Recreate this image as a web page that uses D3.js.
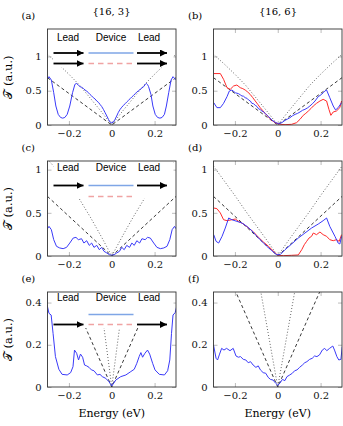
<!DOCTYPE html>
<html>
<head>
<meta charset="utf-8">
<script src="https://cdn.jsdelivr.net/npm/d3@7"></script>
<style>
body { margin: 0; background: #fff; }
svg text.serif { font-family: "DejaVu Serif", "Liberation Serif", serif; }
svg text.sans { font-family: "Liberation Sans", "DejaVu Sans", sans-serif; }
</style>
</head>
<body>
<div id="chart-area"></div>
<script>
// tick values
var xTicks = [-0.2, 0, 0.2];
var yTicksHigh = [0, 0.5, 1];
var yTicksLow = [0, 0.2, 0.4];

// reference lines (dashed = linear, dotted = per panel)
var dashedRef = [[-0.3, 0.69], [0, 0], [0.3, 0.69]];
var dottedA = [[-0.3, 1.03], [-0.25, 0.89], [-0.2, 0.74], [-0.15, 0.58], [-0.1, 0.39], [-0.05, 0.2], [0, 0],
	[0.05, 0.2], [0.1, 0.39], [0.15, 0.58], [0.2, 0.74], [0.25, 0.89], [0.3, 1.03]];
var dottedC = [[-0.3, 1.12], [-0.25, 0.98], [-0.2, 0.83], [-0.156, 0.68], [-0.1, 0.45], [-0.05, 0.23], [0, 0],
	[0.05, 0.23], [0.1, 0.45], [0.156, 0.68], [0.2, 0.83], [0.25, 0.98], [0.3, 1.12]];
var dottedD = [[-0.3, 1.04], [-0.25, 0.87], [-0.2, 0.7], [-0.15, 0.52], [-0.1, 0.35], [-0.05, 0.18], [0, 0],
	[0.05, 0.18], [0.1, 0.35], [0.15, 0.52], [0.2, 0.7], [0.25, 0.87], [0.3, 1.04]];
var dottedE = [[-0.062, 0.48], [0, 0], [0.062, 0.48]];
var dottedF = [[-0.08, 0.456], [0, 0], [0.08, 0.456]];

// (a) {16,3}
var blueA = [[-0.3, 0.675], [-0.293, 0.705], [-0.282, 0.656], [-0.271, 0.471], [-0.261, 0.277], [-0.25, 0.155],
	[-0.239, 0.11], [-0.229, 0.1], [-0.219, 0.11], [-0.208, 0.155], [-0.196, 0.277], [-0.183, 0.471], [-0.172, 0.593],
	[-0.164, 0.607], [-0.156, 0.58], [-0.149, 0.56], [-0.141, 0.55], [-0.133, 0.535], [-0.125, 0.51], [-0.117, 0.496],
	[-0.109, 0.47], [-0.102, 0.447], [-0.094, 0.425], [-0.086, 0.398], [-0.078, 0.38], [-0.07, 0.35], [-0.062, 0.33],
	[-0.055, 0.301], [-0.047, 0.27], [-0.039, 0.228], [-0.031, 0.18], [-0.023, 0.131], [-0.015, 0.08], [-0.008, 0.044],
	[0, 0.03], [0.008, 0.044], [0.015, 0.08], [0.023, 0.131], [0.031, 0.185], [0.039, 0.228], [0.047, 0.26],
	[0.055, 0.287], [0.062, 0.31], [0.07, 0.335], [0.078, 0.36], [0.086, 0.384], [0.094, 0.41], [0.102, 0.432],
	[0.109, 0.455], [0.117, 0.481], [0.125, 0.5], [0.133, 0.52], [0.141, 0.54], [0.149, 0.559], [0.155, 0.585],
	[0.161, 0.607], [0.167, 0.59], [0.172, 0.559], [0.183, 0.447], [0.192, 0.277], [0.203, 0.155], [0.214, 0.11],
	[0.225, 0.1], [0.235, 0.11], [0.246, 0.155], [0.255, 0.277], [0.266, 0.471], [0.277, 0.656], [0.286, 0.705],
	[0.297, 0.666], [0.3, 0.66]];

// (b) {16,6}
var blueB = [[-0.299, 0.326], [-0.284, 0.253], [-0.268, 0.253], [-0.253, 0.316], [-0.237, 0.413], [-0.226, 0.496],
	[-0.214, 0.51], [-0.198, 0.47], [-0.183, 0.457], [-0.175, 0.44], [-0.167, 0.423], [-0.16, 0.42], [-0.152, 0.398],
	[-0.144, 0.39], [-0.136, 0.364], [-0.128, 0.35], [-0.121, 0.316], [-0.113, 0.31], [-0.105, 0.287], [-0.097, 0.27],
	[-0.09, 0.238], [-0.082, 0.225], [-0.074, 0.204], [-0.066, 0.19], [-0.059, 0.17], [-0.051, 0.145], [-0.043, 0.121],
	[-0.035, 0.1], [-0.028, 0.073], [-0.012, 0.039], [0.003, 0.019], [0.019, 0.034], [0.034, 0.068], [0.045, 0.085],
	[0.057, 0.107], [0.069, 0.135], [0.081, 0.155], [0.093, 0.17], [0.104, 0.19], [0.116, 0.215], [0.127, 0.228],
	[0.139, 0.25], [0.15, 0.277], [0.162, 0.31], [0.174, 0.35], [0.189, 0.413], [0.205, 0.447], [0.212, 0.47],
	[0.22, 0.496], [0.228, 0.51], [0.243, 0.398], [0.259, 0.277], [0.27, 0.219], [0.282, 0.253], [0.298, 0.326]];
var redB = [[-0.299, 0.75], [-0.268, 0.75], [-0.253, 0.666], [-0.237, 0.544], [-0.222, 0.52], [-0.206, 0.569],
	[-0.191, 0.583], [-0.175, 0.544], [-0.163, 0.53], [-0.152, 0.51], [-0.14, 0.48], [-0.129, 0.447], [-0.117, 0.4],
	[-0.105, 0.35], [-0.093, 0.3], [-0.082, 0.253], [-0.07, 0.21], [-0.059, 0.17], [-0.047, 0.13], [-0.036, 0.092],
	[-0.024, 0.06], [-0.012, 0.034], [0.011, 0.01], [0.034, 0.005], [0.065, 0.01], [0.088, 0.034], [0.104, 0.083],
	[0.119, 0.141], [0.131, 0.17], [0.143, 0.204], [0.155, 0.24], [0.166, 0.277], [0.181, 0.316], [0.197, 0.35],
	[0.212, 0.374], [0.228, 0.35], [0.239, 0.228], [0.248, 0.141], [0.259, 0.19], [0.274, 0.204], [0.29, 0.253],
	[0.298, 0.35]];

// (c) {16,3}
var blueC = [[-0.3, 0.316], [-0.293, 0.343], [-0.282, 0.305], [-0.271, 0.189], [-0.258, 0.112], [-0.243, 0.093],
	[-0.227, 0.085], [-0.211, 0.1], [-0.196, 0.15], [-0.18, 0.208], [-0.167, 0.216], [-0.156, 0.189], [-0.141, 0.2],
	[-0.13, 0.15], [-0.117, 0.177], [-0.105, 0.123], [-0.094, 0.15], [-0.083, 0.1], [-0.07, 0.123], [-0.058, 0.073],
	[-0.047, 0.1], [-0.036, 0.054], [-0.023, 0.035], [-0.011, 0.015], [0, 0.008], [0.011, 0.015], [0.023, 0.035],
	[0.036, 0.054], [0.047, 0.1], [0.058, 0.073], [0.07, 0.123], [0.083, 0.1], [0.094, 0.15], [0.105, 0.123],
	[0.117, 0.177], [0.13, 0.15], [0.141, 0.2], [0.156, 0.189], [0.167, 0.216], [0.18, 0.208], [0.196, 0.15],
	[0.211, 0.1], [0.227, 0.085], [0.243, 0.093], [0.258, 0.112], [0.271, 0.189], [0.282, 0.305], [0.293, 0.343],
	[0.3, 0.316]];

// (d) {16,6}
var blueD = [[-0.299, 0.247], [-0.288, 0.17], [-0.276, 0.15], [-0.26, 0.228], [-0.245, 0.324], [-0.229, 0.44],
	[-0.214, 0.42], [-0.191, 0.401], [-0.167, 0.382], [-0.144, 0.343], [-0.121, 0.293], [-0.098, 0.228],
	[-0.074, 0.17], [-0.051, 0.112], [-0.028, 0.062], [-0.005, 0.015], [0.011, 0.015], [0.034, 0.073],
	[0.065, 0.139], [0.096, 0.208], [0.127, 0.266], [0.158, 0.324], [0.189, 0.37], [0.212, 0.409], [0.228, 0.44],
	[0.243, 0.343], [0.267, 0.228], [0.282, 0.15], [0.29, 0.139], [0.298, 0.228]];
var redD = [[-0.299, 0.556], [-0.284, 0.548], [-0.268, 0.498], [-0.253, 0.42], [-0.237, 0.409], [-0.214, 0.42],
	[-0.198, 0.428], [-0.183, 0.401], [-0.16, 0.37], [-0.136, 0.324], [-0.113, 0.278], [-0.09, 0.216],
	[-0.067, 0.162], [-0.043, 0.112], [-0.02, 0.054], [0, 0.008], [0.026, 0.004], [0.065, 0.008], [0.096, 0.012],
	[0.112, 0.073], [0.124, 0.131], [0.135, 0.17], [0.146, 0.208], [0.158, 0.228], [0.166, 0.266], [0.181, 0.247],
	[0.197, 0.278], [0.212, 0.247], [0.228, 0.228], [0.243, 0.189], [0.259, 0.177], [0.274, 0.189], [0.287, 0.17],
	[0.298, 0.247]];

// (e) {16,3}
var blueE = [[-0.302, 0.389], [-0.293, 0.349], [-0.283, 0.341], [-0.274, 0.254], [-0.263, 0.144], [-0.247, 0.084],
	[-0.232, 0.06], [-0.208, 0.057], [-0.192, 0.068], [-0.181, 0.096], [-0.174, 0.175], [-0.164, 0.16],
	[-0.155, 0.128], [-0.146, 0.156], [-0.136, 0.141], [-0.127, 0.104], [-0.117, 0.1], [-0.106, 0.093],
	[-0.095, 0.081], [-0.083, 0.077], [-0.067, 0.057], [-0.055, 0.06], [-0.044, 0.049], [-0.028, 0.041],
	[-0.013, 0.025], [0, 0.005], [0.019, 0.033], [0.042, 0.049], [0.066, 0.057], [0.089, 0.073], [0.105, 0.084],
	[0.117, 0.112], [0.128, 0.144], [0.136, 0.163], [0.144, 0.141], [0.155, 0.16], [0.167, 0.175], [0.177, 0.156],
	[0.191, 0.112], [0.202, 0.081], [0.222, 0.06], [0.246, 0.057], [0.261, 0.077], [0.271, 0.128], [0.279, 0.254],
	[0.286, 0.341], [0.296, 0.352], [0.305, 0.389]];

// (f) {16,6}
var blueF = [[-0.3, 0.199], [-0.288, 0.136], [-0.281, 0.128], [-0.273, 0.152], [-0.262, 0.183], [-0.251, 0.175],
	[-0.239, 0.183], [-0.223, 0.172], [-0.208, 0.183], [-0.195, 0.147], [-0.184, 0.141], [-0.174, 0.144],
	[-0.161, 0.131], [-0.149, 0.128], [-0.138, 0.115], [-0.127, 0.12], [-0.115, 0.104], [-0.102, 0.093],
	[-0.091, 0.1], [-0.081, 0.081], [-0.068, 0.068], [-0.056, 0.065], [-0.045, 0.046], [-0.034, 0.036],
	[-0.022, 0.033], [-0.009, 0.017], [0, 0.008], [0.009, 0.017], [0.022, 0.036], [0.033, 0.03], [0.043, 0.049],
	[0.056, 0.057], [0.068, 0.065], [0.079, 0.077], [0.09, 0.081], [0.102, 0.093], [0.115, 0.104], [0.126, 0.115],
	[0.136, 0.12], [0.149, 0.131], [0.161, 0.136], [0.172, 0.147], [0.183, 0.144], [0.195, 0.152], [0.208, 0.175],
	[0.219, 0.183], [0.229, 0.172], [0.242, 0.183], [0.257, 0.194], [0.265, 0.175], [0.276, 0.144], [0.285, 0.128],
	[0.295, 0.131], [0.301, 0.191]];

var completeWidth = 343,
	completeHeight = 426;

var colLeft = [47.5, 213.5];
var plotW = 128.5;
var rowTop = [29, 161, 292];
var plotH = [96, 95, 95];

var panels = [
	{ tag: "(a)", col: 0, row: 0, ymax: 1.4, yTicks: yTicksHigh, dotted: dottedA, blue: blueA, red: null, inset: 0 },
	{ tag: "(b)", col: 1, row: 0, ymax: 1.4, yTicks: yTicksHigh, dotted: dottedA, blue: blueB, red: redB },
	{ tag: "(c)", col: 0, row: 1, ymax: 1.1, yTicks: yTicksHigh, dotted: dottedC, blue: blueC, red: null, inset: 1 },
	{ tag: "(d)", col: 1, row: 1, ymax: 1.1, yTicks: yTicksHigh, dotted: dottedD, blue: blueD, red: redD },
	{ tag: "(e)", col: 0, row: 2, ymax: 0.45, yTicks: yTicksLow, dotted: dottedE, blue: blueE, red: null, inset: 2 },
	{ tag: "(f)", col: 1, row: 2, ymax: 0.45, yTicks: yTicksLow, dotted: dottedF, blue: blueF, red: null }
];

// inset layout per row: text baseline, blue line, red line, arrow rows, box bottom (offsets from plot top)
var insetLayout = [
	{ text: 11.5, blue: 24, red: 34.5, arrows: [24, 34.5], bottom: 38.5 },
	{ text: 9.5, blue: 24.5, red: 35.5, arrows: [24.5], bottom: 37.5 },
	{ text: 9, blue: 22.5, red: 32.5, arrows: [32.5], bottom: 36 }
];

var minusFmt = function(d) { return String(d).replace("-", "\u2212"); };

var svg = d3.select("#chart-area")
	.append("svg")
		.attr("width", completeWidth)
		.attr("height", completeHeight);

var defs = svg.append("defs");
defs.append("marker")
	.attr("id", "arrowhead")
	.attr("viewBox", "0 0 10 10")
	.attr("refX", 10).attr("refY", 5)
	.attr("markerUnits", "userSpaceOnUse")
	.attr("markerWidth", 7).attr("markerHeight", 7)
	.attr("orient", "auto")
	.append("path")
		.attr("d", "M0,0 L10,5 L0,10 z")
		.attr("fill", "#000");

// column titles
svg.append("text").attr("class", "serif").attr("x", 111.5).attr("y", 14.5).attr("text-anchor", "middle")
	.style("font-size", "10px").text("{16, 3}");
svg.append("text").attr("class", "serif").attr("x", 278).attr("y", 14.5).attr("text-anchor", "middle")
	.style("font-size", "10px").text("{16, 6}");

panels.forEach(function(p, i) {
	var x0 = colLeft[p.col], y0 = rowTop[p.row], h = plotH[p.row];

	var x = d3.scaleLinear().domain([-0.3, 0.3]).range([0, plotW]);
	var y = d3.scaleLinear().domain([0, p.ymax]).range([h, 0]);

	var g = svg.append("g").attr("transform", "translate(" + x0 + "," + y0 + ")");

	defs.append("clipPath").attr("id", "clip" + i)
		.append("rect").attr("width", plotW).attr("height", h);

	// panel tag
	svg.append("text").attr("class", "serif")
		.attr("x", p.col == 0 ? 21.5 : 188)
		.attr("y", y0 - 10.5)
		.style("font-size", "10px")
		.text(p.tag);

	// axes: labels outside, ticks inside
	var xAxisCall = d3.axisBottom(x).tickValues(xTicks).tickSize(-4).tickPadding(5).tickFormat(minusFmt);
	var xTopCall = d3.axisTop(x).tickValues(xTicks).tickSize(-4).tickFormat("");
	var yAxisCall = d3.axisLeft(y).tickValues(p.yTicks).tickSize(-4).tickPadding(6).tickFormat(minusFmt);
	var yRightCall = d3.axisRight(y).tickValues(p.yTicks).tickSize(-4).tickFormat("");

	var axes = [
		g.append("g").attr("transform", "translate(0," + h + ")").call(xAxisCall),
		g.append("g").call(xTopCall),
		g.append("g").call(yAxisCall),
		g.append("g").attr("transform", "translate(" + plotW + ",0)").call(yRightCall)
	];
	axes.forEach(function(a) {
		a.attr("font-family", null).attr("font-size", null);
		a.select(".domain").remove();
		a.selectAll("line").attr("stroke", "#b4b4b4").attr("stroke-width", 0.9);
		a.selectAll("text").attr("class", "serif").style("font-size", "10px").attr("fill", "#111");
	});

	var line = d3.line()
		.x(function(d) { return x(d[0]); })
		.y(function(d) { return y(d[1]); });

	var plot = g.append("g").attr("clip-path", "url(#clip" + i + ")");

	plot.append("path").datum(p.dotted)
		.attr("d", line).attr("fill", "none")
		.attr("stroke", "#444").attr("stroke-width", 0.9).attr("stroke-dasharray", "0.9,2.1");
	plot.append("path").datum(dashedRef)
		.attr("d", line).attr("fill", "none")
		.attr("stroke", "#222").attr("stroke-width", 0.9).attr("stroke-dasharray", "3.2,2.6");

	if (p.inset !== undefined) {
		var L = insetLayout[p.inset];
		plot.append("rect")
			.attr("x", 6).attr("y", 0).attr("width", 120).attr("height", L.bottom)
			.attr("fill", "#fff");
	}

	if (p.red) {
		plot.append("path").datum(p.red)
			.attr("d", line).attr("fill", "none")
			.attr("stroke", "#ff2a2a").attr("stroke-width", 1);
	}
	plot.append("path").datum(p.blue)
		.attr("d", line).attr("fill", "none")
		.attr("stroke", "#3a3af8").attr("stroke-width", 1);

	if (p.inset !== undefined) {
		var L = insetLayout[p.inset];
		var ins = g.append("g");
		[["Lead", 20.5], ["Device", 63.5], ["Lead", 101.5]].forEach(function(t) {
			ins.append("text").attr("class", "sans").attr("x", t[1]).attr("y", L.text)
				.attr("text-anchor", "middle")
				.style("font-size", "10px")
				.text(t[0]);
		});
		L.arrows.forEach(function(ay) {
			[[6, 36], [89.5, 119.5]].forEach(function(ax) {
				ins.append("line")
					.attr("x1", ax[0]).attr("x2", ax[1])
					.attr("y1", ay).attr("y2", ay)
					.attr("stroke", "#000").attr("stroke-width", 1.8)
					.attr("marker-end", "url(#arrowhead)");
			});
		});
		ins.append("line").attr("x1", 41).attr("x2", 86).attr("y1", L.blue).attr("y2", L.blue)
			.attr("stroke", "#7fa6e6").attr("stroke-width", 1.3);
		ins.append("line").attr("x1", 41).attr("x2", 86).attr("y1", L.red).attr("y2", L.red)
			.attr("stroke", "#f0a3a3").attr("stroke-width", 1.3).attr("stroke-dasharray", "5.5,4");
	}

	// frame
	g.append("rect").attr("width", plotW).attr("height", h)
		.attr("fill", "none").attr("stroke", "#333").attr("stroke-width", 0.9);

	// y label on left column
	if (p.col == 0) {
		var yLabel = svg.append("text").attr("class", "serif")
			.attr("transform", "translate(11.5," + (y0 + h / 2) + ") rotate(-90)")
			.attr("text-anchor", "middle")
			.style("font-size", "11.5px");
		yLabel.append("tspan").text("\uD835\uDCAF");
		yLabel.append("tspan").text(" (a.u.)");
	}
	// x label on bottom row
	if (p.row == 2) {
		svg.append("text").attr("class", "serif")
			.attr("x", x0 + plotW / 2).attr("y", y0 + h + 30)
			.attr("text-anchor", "middle")
			.style("font-size", "11px")
			.text("Energy (eV)");
	}
});
</script>
</body>
</html>
